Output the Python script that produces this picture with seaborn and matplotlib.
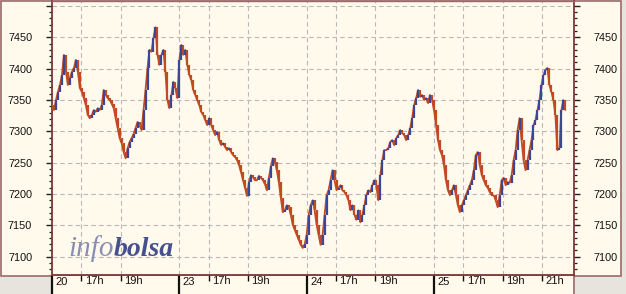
import numpy as np
import pandas as pd
import matplotlib
matplotlib.use("Agg")
import matplotlib.pyplot as plt
import matplotlib.transforms as mtransforms
from matplotlib.patches import Rectangle
from matplotlib.lines import Line2D
from matplotlib.ticker import FixedLocator, MultipleLocator
import seaborn as sns

# ---------------- data ----------------
day_labels = ["20", "23", "24", "25"]
hours_by_day = [[17, 19], [17, 19], [17, 19], [17, 19, 21]]
session_open = 15.5      # 15:30
session_len = 6.5        # hours per session
bars_per_session = 64

close_20 = [7342, 7334, 7350, 7363, 7374, 7390, 7422, 7395, 7374, 7385,
            7395, 7401, 7414, 7395, 7369, 7363, 7353, 7342, 7326, 7321,
            7326, 7334, 7331, 7337, 7334, 7342, 7366, 7358, 7353, 7350,
            7344, 7337, 7321, 7305, 7289, 7281, 7267, 7257, 7273, 7283,
            7289, 7296, 7305, 7315, 7310, 7302, 7334, 7366, 7401, 7430,
            7427, 7449, 7466, 7422, 7406, 7422, 7430, 7395, 7350, 7337,
            7358, 7379, 7369, 7353]
close_23 = [7414, 7438, 7422, 7430, 7406, 7390, 7382, 7366, 7358, 7350,
            7342, 7331, 7326, 7318, 7310, 7321, 7310, 7302, 7294, 7299,
            7286, 7278, 7281, 7275, 7270, 7273, 7267, 7262, 7259, 7254,
            7246, 7235, 7222, 7210, 7197, 7219, 7230, 7227, 7222, 7222,
            7229, 7226, 7222, 7216, 7206, 7226, 7244, 7257, 7251, 7238,
            7219, 7194, 7171, 7174, 7182, 7179, 7167, 7151, 7143, 7135,
            7127, 7119, 7114, 7120]
close_24 = [7135, 7167, 7182, 7190, 7174, 7151, 7135, 7119, 7135, 7167,
            7198, 7206, 7222, 7238, 7222, 7206, 7210, 7214, 7206, 7203,
            7198, 7190, 7174, 7182, 7167, 7159, 7174, 7155, 7167, 7182,
            7198, 7206, 7203, 7214, 7222, 7214, 7190, 7230, 7254, 7270,
            7270, 7273, 7283, 7286, 7278, 7289, 7294, 7302, 7297, 7294,
            7286, 7294, 7305, 7321, 7342, 7353, 7366, 7355, 7358, 7350,
            7353, 7345, 7358, 7350]
close_25 = [7334, 7310, 7286, 7270, 7262, 7246, 7222, 7206, 7198, 7206,
            7214, 7198, 7182, 7171, 7182, 7190, 7198, 7206, 7214, 7222,
            7238, 7262, 7267, 7246, 7230, 7222, 7214, 7210, 7203, 7198,
            7198, 7190, 7179, 7198, 7222, 7226, 7214, 7219, 7218, 7230,
            7254, 7270, 7302, 7321, 7286, 7254, 7238, 7254, 7270, 7286,
            7310, 7318, 7334, 7350, 7374, 7390, 7398, 7401, 7374, 7363,
            7350, 7326, 7270, 7273, 7334, 7350, 7334]

y_major = [7100, 7150, 7200, 7250, 7300, 7350, 7400, 7450, 7500]
y_labels = ["7100", "7150", "7200", "7250", "7300", "7350", "7400", "7450", ""]

# ---------------- styling ----------------
BG = "#FFFAEC"
OUT = "#E6E4DC"
BORDER = "#9A6A6A"
SPINE = "#7A3A3A"
RED = "#C24A22"
BLUE = "#3B4795"
GRID = "#B8B8B8"

sns.set_theme(style="white")
plt.rcParams["font.family"] = ["Liberation Sans", "DejaVu Sans"]

W, H = 626, 294
fig = plt.figure(figsize=(W / 100, H / 100), dpi=100, facecolor=OUT)


def fx(px):
    return px / W


def fy(py):
    return 1 - py / H


# outer cream panel
fig.patches.append(Rectangle((fx(1), fy(276)), fx(621) - fx(1), fy(0.5) - fy(276),
                             transform=fig.transFigure, facecolor=BG,
                             edgecolor=BORDER, lw=1.2, zorder=-10))
# x label strip
fig.patches.append(Rectangle((fx(52), fy(294)), fx(573) - fx(52), fy(276) - fy(294),
                             transform=fig.transFigure, facecolor=BG,
                             edgecolor="none", zorder=-10))
fig.lines.append(Line2D([fx(573.5), fx(573.5)], [fy(276), fy(294)],
                        transform=fig.transFigure, color=BORDER, lw=1.2, zorder=-5))

ax = fig.add_axes([fx(52), fy(275), fx(573.5) - fx(52), fy(1) - fy(275)])
ax.set_zorder(1)
ax.set_facecolor(BG)

# build the series
rows = []
step = session_len / bars_per_session
for d, vals in enumerate([close_20, close_23, close_24, close_25]):
    for i, v in enumerate(vals):
        rows.append((d * session_len + i * step, v))
df = pd.DataFrame(rows, columns=["t", "close"])

sns.lineplot(data=df, x="t", y="close", color=RED, lw=1.3, ax=ax, zorder=3)
prev = df["close"].shift(1)
up = df["close"] > prev
dn = df["close"] < prev
ax.vlines(df["t"][dn], prev[dn], df["close"][dn], color=RED, lw=1.6, zorder=4)
ax.vlines(df["t"][up], prev[up], df["close"][up], color=BLUE, lw=1.6, zorder=5)

ax.set_xlim(0, 26.62)
ax.set_ylim(7070.8, 7507.9)
ax.set_xlabel("")
ax.set_ylabel("")

# y axis
ax.yaxis.set_major_locator(FixedLocator(y_major))
ax.set_yticklabels(y_labels)
ax.yaxis.set_minor_locator(MultipleLocator(10))
ax.tick_params(axis="y", which="major", direction="out", length=4.3, width=1.0,
               color="#202020", left=True, right=True, labelleft=True,
               labelright=True, labelsize=7.8, labelcolor="#111111", pad=10)
ax.tick_params(axis="y", which="minor", direction="out", length=2.2, width=0.9,
               color="#202020", left=True, right=True)

# x axis: days (major) and hours (minor)
day_pos = [d * session_len for d in range(len(day_labels))]
hour_pos, hour_lab = [], []
for d, hs in enumerate(hours_by_day):
    for h in hs:
        hour_pos.append(d * session_len + h - session_open)
        hour_lab.append(f"{h}h")
ax.xaxis.set_major_locator(FixedLocator(day_pos))
ax.xaxis.set_minor_locator(FixedLocator(hour_pos))
ax.set_xticklabels(day_labels)
ax.set_xticklabels(hour_lab, minor=True)
ax.tick_params(axis="x", which="major", direction="out", length=14, width=1.6,
               color="#111111", bottom=True, labelsize=8, labelcolor="#111111",
               pad=-12.6)
ax.tick_params(axis="x", which="minor", direction="out", length=4.3, width=1.0,
               color="#111111", bottom=True, labelsize=8, labelcolor="#111111",
               pad=-3.3)

ax.grid(False)
ax.grid(True, which="major", axis="y", ls=(0, (4, 3)), color=GRID, lw=0.8)
ax.grid(True, which="both", axis="x", ls=(0, (4, 3)), color=GRID, lw=0.8)
ax.set_axisbelow(True)

for side in ["left", "right", "bottom"]:
    ax.spines[side].set_color(SPINE)
    ax.spines[side].set_linewidth(1.3)
    ax.spines[side].set_visible(True)
ax.spines["top"].set_color(BORDER)
ax.spines["top"].set_linewidth(1.0)

offset = mtransforms.ScaledTranslation(2.5 / 72, 0, fig.dpi_scale_trans)
for lab in ax.get_xticklabels(which="both"):
    lab.set_horizontalalignment("left")
    lab.set_transform(lab.get_transform() + offset)

# watermark
ax.text(0.032, 0.07, "info", color="#8A8EB6", fontsize=21,
        family=["Liberation Serif", "DejaVu Serif"], style="italic",
        va="baseline", transform=ax.transAxes, zorder=2)
ax.text(0.119, 0.07, "bolsa", color="#46508E", fontsize=20,
        family=["Liberation Serif", "DejaVu Serif"], style="italic",
        weight="bold", va="baseline", transform=ax.transAxes, zorder=2)

fig.savefig("out.png", dpi=100, facecolor=OUT)
